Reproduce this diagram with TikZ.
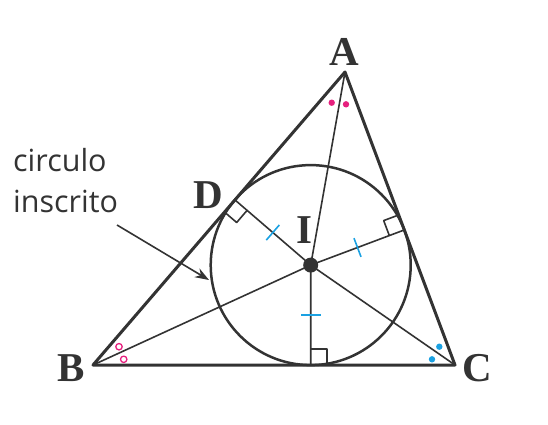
\documentclass[tikz,border=0pt]{standalone}
\usepackage{fontspec}
\newfontfamily\rotulo{Open Sans}
\newfontfamily\vertice{Liberation Serif}
\usetikzlibrary{calc,arrows.meta}
\definecolor{rosa}{HTML}{E6207E}
\definecolor{azul}{HTML}{1BA1E2}
\definecolor{trazo}{HTML}{333333}
\newcommand{\angrecto}[3]{\draw[fino] ($(#2)!16pt!(#1)$) -- ($(#2)!16pt!(#1)+(#2)!16pt!(#3)-(#2)$) -- ($(#2)!16pt!(#3)$);}
\newcommand{\igual}[2]{\coordinate (m#2) at ($(#1)!0.5!(#2)$);
	\draw[azul,line width=1.6pt] ($(m#2)!10pt!90:(#2)$) -- ($(m#2)!10pt!-90:(#2)$);}

\begin{document}
\begin{tikzpicture}[>={Stealth[length=14pt,width=10pt]},x=1pt,y=1pt,line join=round,
	lado/.style={line width=3pt,trazo},
	fino/.style={line width=1.6pt,trazo},
	letra/.style={font=\vertice\bfseries\fontsize{41}{44}\selectfont,text=trazo,inner sep=0pt}]
\useasboundingbox (0,0) rectangle (548,424);
\coordinate (A) at (345,352);
\coordinate (B) at (93,59);
\coordinate (C) at (455,59);
\coordinate (I) at (310.7,158.9);
\coordinate (D) at ($(A)!(I)!(B)$);
\coordinate (E) at ($(A)!(I)!(C)$);
\coordinate (F) at ($(B)!(I)!(C)$);

%% bisectrices y radios perpendiculares
\draw[fino] (A)--(I) (B)--(I) (C)--(I);
\draw[fino] (I)--(D) (I)--(E) (I)--(F);
\draw[line width=2.5pt,trazo] (I) circle (100);
\draw[lado] (A)--(B)--(C)--cycle;
\fill[trazo] (I) circle (7.5);

\angrecto{I}{D}{B}
\angrecto{I}{E}{A}
\angrecto{I}{F}{C}
\foreach \p in {D,E,F} {\igual{I}{\p}}

%% angulos iguales
\fill[rosa] (331.7,321.3) circle (3.2) (346,319.7) circle (3.2);
\draw[rosa,line width=1.3pt] (119,77.3) circle (3.2) (123.7,64.7) circle (3.2);
\fill[azul] (439.3,77.3) circle (3.2) (432,64.7) circle (3.2);

\node[letra] (lA) at (344,372) {A};
\node[letra] (lB) at (71,56) {B};
\node[letra] (lC) at (477,56) {C};
\node[letra] (lD) at (208,229) {D};
\node[letra] (lI) at (304,194) {I};

\node[anchor=north west,align=left,inner sep=0pt,text=trazo,
	font=\rotulo\fontsize{30.5}{41}\selectfont] (txt) at (13,276) {circulo\\inscrito};
\coordinate (cola) at (117,199);
\coordinate (punta) at (209,144);
\draw[fino,->] (cola)--(punta);
\end{tikzpicture}
\end{document}
